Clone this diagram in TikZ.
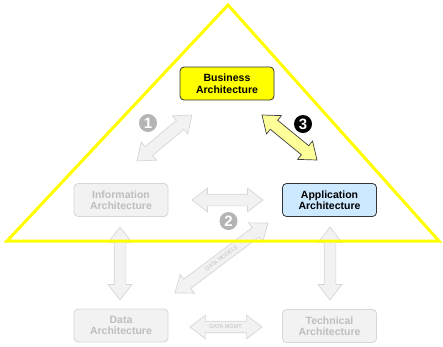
\documentclass[tikz,border=0pt]{standalone}
\usepackage{fontspec}
\setmainfont{Liberation Sans}
\usetikzlibrary{shapes.arrows,calc}

\definecolor{bizyellow}{HTML}{FFFF00}
\definecolor{appblue}{HTML}{CCE9FF}
\definecolor{fadefill}{HTML}{F2F2F2}
\definecolor{fadeline}{HTML}{D6D6D6}
\definecolor{fadetext}{HTML}{BEBEBE}
\definecolor{softyellow}{HTML}{FFFF99}
\definecolor{badgegray}{HTML}{B4B4B4}

\tikzstyle{block}=[draw=black!80, line width=0.8pt, rounded corners=4pt, minimum width=94pt, minimum height=33pt, align=center, font=\bfseries\fontsize{10.5}{11.5}\selectfont]
\tikzstyle{faded}=[block, draw=fadeline, fill=fadefill, text=fadetext]
\tikzstyle{fat}=[double arrow, draw=fadeline, fill=fadefill, line width=0.7pt, double arrow head extend=6pt, double arrow tip angle=75, inner xsep=0pt, inner ysep=5.5pt, font=\fontsize{5.5}{6}\selectfont, text=fadetext]
\tikzstyle{tagged}=[inner ysep=3.5pt]
\tikzstyle{badge}=[circle, fill=badgegray, text=white, inner sep=0pt, minimum size=18pt, font=\bfseries\fontsize{15}{15}\selectfont]

\newcommand{\fatarrow}[4][]{\path let \p1=($(#3)-(#2)$), \n1={veclen(\x1,\y1)} in (#2) -- (#3) node[fat, #1, midway, sloped, minimum height=\n1] {#4};}

\begin{document}
\begin{tikzpicture}[x=1pt,y=-1pt]
\useasboundingbox (0,0) rectangle (443,346);

% boxes
\node[block, fill=bizyellow] (business) at (227,83.5) {Business\\Architecture};
\node[faded] (info) at (121,200) {Information\\Architecture};
\node[block, fill=appblue] (app) at (329.5,200) {Application\\Architecture};
\node[faded] (data) at (121,325.5) {Data\\Architecture};
\node[faded] (tech) at (329.5,326) {Technical\\Architecture};

% arrow ends
\coordinate (infoup) at (137,161);
\coordinate (bizleft) at (192,115);
\coordinate (bizright) at (262,115);
\coordinate (appup) at (317,160);
\coordinate (infoside) at (192,200);
\coordinate (appside) at (263,200);
\coordinate (infodown) at (120,227);
\coordinate (datatop) at (120,300);
\coordinate (appdown) at (330,227);
\coordinate (techtop) at (330,300);
\coordinate (datacorner) at (175,293);
\coordinate (appcorner) at (268,223);
\coordinate (dataside) at (190,327);
\coordinate (techside) at (262,327);

\fatarrow{infoup}{bizleft}{}
\fatarrow[fill=softyellow, draw=black!75]{bizright}{appup}{}
\fatarrow{infoside}{appside}{}
\fatarrow{infodown}{datatop}{}
\fatarrow{appdown}{techtop}{}
\fatarrow[tagged]{datacorner}{appcorner}{DATA MODELS}
\fatarrow[tagged]{dataside}{techside}{DATA MGMT.}

% numbers
\node[badge] (one) at (148,123) {1};
\node[badge] (two) at (228.5,221) {2};
\node[badge, fill=black] (three) at (303,124) {3};

% triangle
\draw[bizyellow, line width=3pt, line join=miter] (228,5) -- (439,241) -- (7,241) -- cycle;
\end{tikzpicture}
\end{document}
